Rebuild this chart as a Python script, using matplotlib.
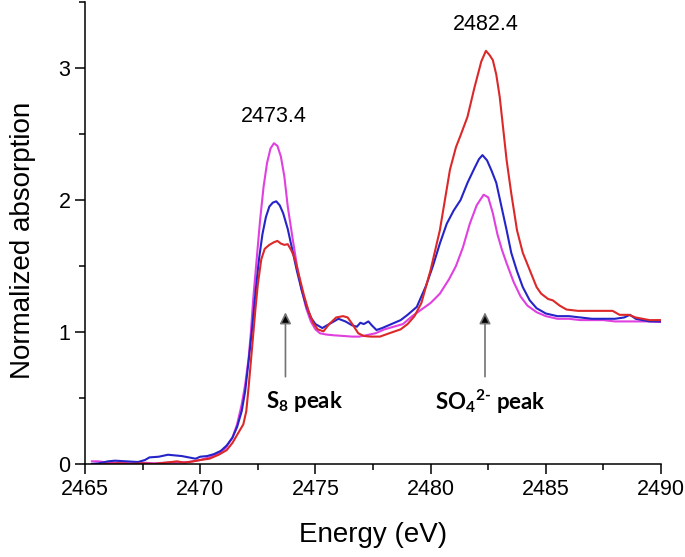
import matplotlib
matplotlib.use("Agg")
import matplotlib.pyplot as plt
from matplotlib.ticker import MultipleLocator

# sample curves (energy in eV, normalized absorption)
mag_x = [2465.3, 2465.6, 2466.0, 2466.5, 2467.0, 2467.5, 2468.0, 2468.5, 2469.0, 2469.5,
         2470.0, 2470.4, 2470.8, 2471.1, 2471.4, 2471.6, 2471.8, 2471.95, 2472.1, 2472.2,
         2472.3, 2472.45, 2472.6, 2472.75, 2472.9, 2473.05, 2473.2, 2473.35, 2473.5, 2473.65,
         2473.8, 2474.0, 2474.2, 2474.4, 2474.6, 2474.8, 2475.0, 2475.2, 2475.5, 2475.8,
         2476.2, 2476.6, 2476.9, 2477.2, 2477.6, 2478.0, 2478.4, 2478.8, 2479.2, 2479.6,
         2480.0, 2480.4, 2480.8, 2481.1, 2481.4, 2481.7, 2482.0, 2482.3, 2482.5, 2482.7,
         2482.9, 2483.1, 2483.3, 2483.6, 2483.9, 2484.2, 2484.6, 2485.0, 2485.5, 2486.0,
         2486.5, 2487.0, 2487.5, 2488.0, 2488.5, 2489.0, 2489.5, 2490.0]
mag_y = [0.02, 0.02, 0.01, 0.01, 0.005, 0.01, 0.005, 0.01, 0.01, 0.015,
         0.03, 0.05, 0.08, 0.12, 0.2, 0.3, 0.45, 0.6, 0.8, 1.0,
         1.25, 1.55, 1.85, 2.1, 2.28, 2.39, 2.43, 2.41, 2.33, 2.18,
         1.95, 1.72, 1.5, 1.32, 1.18, 1.08, 1.02, 0.99, 0.98, 0.975,
         0.97, 0.965, 0.965, 0.975, 0.99, 1.02, 1.04, 1.06, 1.12, 1.17,
         1.22, 1.29, 1.4, 1.5, 1.64, 1.82, 1.96, 2.04, 2.02, 1.9,
         1.74, 1.62, 1.52, 1.38, 1.27, 1.2, 1.15, 1.12, 1.1, 1.1,
         1.09, 1.09, 1.09, 1.08, 1.08, 1.08, 1.08, 1.075]

blue_x = [2465.3, 2465.6, 2466.0, 2466.3, 2466.8, 2467.3, 2467.6, 2467.8, 2468.2, 2468.6,
          2468.9, 2469.2, 2469.5, 2469.8, 2470.0, 2470.3, 2470.6, 2470.9, 2471.15, 2471.4,
          2471.6, 2471.8, 2471.95, 2472.1, 2472.25, 2472.4, 2472.55, 2472.7, 2472.85, 2473.0,
          2473.15, 2473.3, 2473.45, 2473.6, 2473.8, 2474.0, 2474.2, 2474.4, 2474.6, 2474.8,
          2475.0, 2475.3, 2475.6, 2476.0, 2476.3, 2476.6, 2476.8, 2476.95, 2477.1, 2477.3,
          2477.45, 2477.65, 2477.9, 2478.3, 2478.7, 2479.0, 2479.4, 2479.8, 2480.1, 2480.4,
          2480.7, 2481.0, 2481.3, 2481.6, 2481.9, 2482.1, 2482.25, 2482.45, 2482.65, 2482.85,
          2483.05, 2483.3, 2483.5, 2483.75, 2484.0, 2484.3, 2484.6, 2485.0, 2485.5, 2486.0,
          2486.5, 2487.0, 2487.5, 2488.0, 2488.4, 2488.65, 2488.9, 2489.2, 2489.5, 2490.0]
blue_y = [0.0, 0.005, 0.02, 0.025, 0.02, 0.015, 0.03, 0.05, 0.055, 0.07,
          0.065, 0.06, 0.05, 0.04, 0.055, 0.06, 0.075, 0.1, 0.14, 0.2,
          0.28, 0.4, 0.55, 0.78, 1.02, 1.3, 1.55, 1.74, 1.87, 1.95,
          1.98, 1.99, 1.96, 1.9, 1.78, 1.62, 1.46, 1.32, 1.2, 1.11,
          1.06, 1.03, 1.06, 1.1, 1.08, 1.05, 1.04, 1.07, 1.06, 1.08,
          1.05, 1.015, 1.03, 1.06, 1.09, 1.13, 1.19, 1.35, 1.5, 1.67,
          1.82, 1.92, 2.0, 2.13, 2.24, 2.31, 2.34, 2.3, 2.22, 2.13,
          1.97, 1.77, 1.6, 1.46, 1.34, 1.24, 1.18, 1.14, 1.12, 1.12,
          1.11, 1.1, 1.1, 1.1, 1.11, 1.13, 1.1, 1.09, 1.08, 1.08]

red_x = [2465.8, 2466.5, 2467.0, 2467.5, 2468.0, 2468.5, 2469.0, 2469.3, 2469.7, 2470.0,
         2470.4, 2470.8, 2471.15, 2471.4, 2471.6, 2471.87, 2472.0, 2472.1, 2472.2, 2472.3,
         2472.4, 2472.5, 2472.65, 2472.8, 2473.0, 2473.2, 2473.35, 2473.5, 2473.65, 2473.8,
         2473.95, 2474.1, 2474.3, 2474.5, 2474.7, 2474.9, 2475.1, 2475.35, 2475.6, 2475.9,
         2476.2, 2476.4, 2476.6, 2476.86, 2477.1, 2477.4, 2477.8, 2478.2, 2478.7, 2479.0,
         2479.3, 2479.6, 2480.0, 2480.4, 2480.84, 2481.1, 2481.3, 2481.6, 2481.9, 2482.2,
         2482.4, 2482.55, 2482.7, 2482.85, 2483.0, 2483.3, 2483.5, 2483.75, 2484.0, 2484.3,
         2484.6, 2484.8, 2485.1, 2485.3, 2485.6, 2485.9, 2486.4, 2486.9, 2487.4, 2487.9,
         2488.2, 2488.6, 2488.9, 2489.2, 2489.5, 2490.0]
red_y = [0.0, 0.005, 0.0, 0.005, 0.0, 0.01, 0.02, 0.01, 0.02, 0.03,
         0.04, 0.07, 0.105, 0.16, 0.22, 0.3, 0.4, 0.58, 0.78, 0.98,
         1.18, 1.36, 1.55, 1.63, 1.66, 1.68, 1.69, 1.67, 1.66, 1.665,
         1.62, 1.56, 1.42, 1.28, 1.16, 1.07, 1.02, 1.005, 1.06, 1.11,
         1.12, 1.11, 1.06, 0.99, 0.97, 0.965, 0.965, 0.99, 1.02, 1.06,
         1.12, 1.22, 1.47, 1.77, 2.23, 2.4, 2.49, 2.63, 2.85, 3.05,
         3.13, 3.1, 3.06, 2.95, 2.78, 2.3, 2.05, 1.77, 1.6, 1.47,
         1.34, 1.29, 1.25, 1.24, 1.2, 1.17, 1.16, 1.16, 1.16, 1.16,
         1.13, 1.13, 1.11, 1.1, 1.09, 1.09]

peak_labels = ["2473.4", "2482.4"]

plt.rcParams['font.family'] = ['Liberation Sans', 'DejaVu Sans']
plt.rcParams['mathtext.fontset'] = 'custom'
plt.rcParams['mathtext.rm'] = 'Lato:bold'
plt.rcParams['mathtext.it'] = 'Lato:bold'
plt.rcParams['mathtext.bf'] = 'Lato:bold'

fig = plt.figure(figsize=(6.85, 5.57), dpi=100)
ax = fig.add_axes([0.1241, 0.167, 0.8409, 0.8294])

ax.plot(mag_x, mag_y, color='#e040e0', lw=1.5)
ax.plot(blue_x, blue_y, color='#2424c8', lw=1.5)
ax.plot(red_x, red_y, color='#dc2828', lw=1.5)

ax.set_xlim(2465, 2490)
ax.set_ylim(0, 3.5)
ax.xaxis.set_major_locator(MultipleLocator(5))
ax.xaxis.set_minor_locator(MultipleLocator(2.5))
ax.yaxis.set_major_locator(MultipleLocator(1))
ax.yaxis.set_minor_locator(MultipleLocator(0.5))
ax.tick_params(which='major', direction='out', length=7, width=1.1, labelsize=15.5)
ax.tick_params(which='minor', direction='out', length=4.5, width=1.1)
ax.tick_params(axis='x', pad=4)
for s in ['top', 'right']:
    ax.spines[s].set_visible(False)
for s in ['left', 'bottom']:
    ax.spines[s].set_linewidth(1.1)

ax.set_xlabel('Energy (eV)', fontsize=20)
ax.set_ylabel('Normalized absorption', fontsize=20)
ax.xaxis.set_label_coords(0.5, -0.125)
ax.yaxis.set_label_coords(-0.085, 0.485)

# peak energies
ax.text(2473.2, 2.63, peak_labels[0], fontsize=15.5, ha='center', va='center')
ax.text(2482.4, 3.33, peak_labels[1], fontsize=15.5, ha='center', va='center')

# arrows + species labels
arrow = dict(arrowstyle='-|>', color='0.45', fc='black', lw=1.2, mutation_scale=17)
ax.annotate('', xy=(2473.7, 1.17), xytext=(2473.7, 0.64), arrowprops=arrow)
ax.annotate('', xy=(2482.36, 1.17), xytext=(2482.36, 0.64), arrowprops=arrow)
ax.text(2474.55, 0.47, 'S$_8$ peak', family='Lato', fontweight='bold', fontsize=16,
        ha='center', va='center')
ax.text(2482.6, 0.47, r'SO$_4$$^{2\text{-}}$ peak', family='Lato', fontweight='bold',
        fontsize=16, ha='center', va='center')

fig.savefig('out.png', dpi=100)
